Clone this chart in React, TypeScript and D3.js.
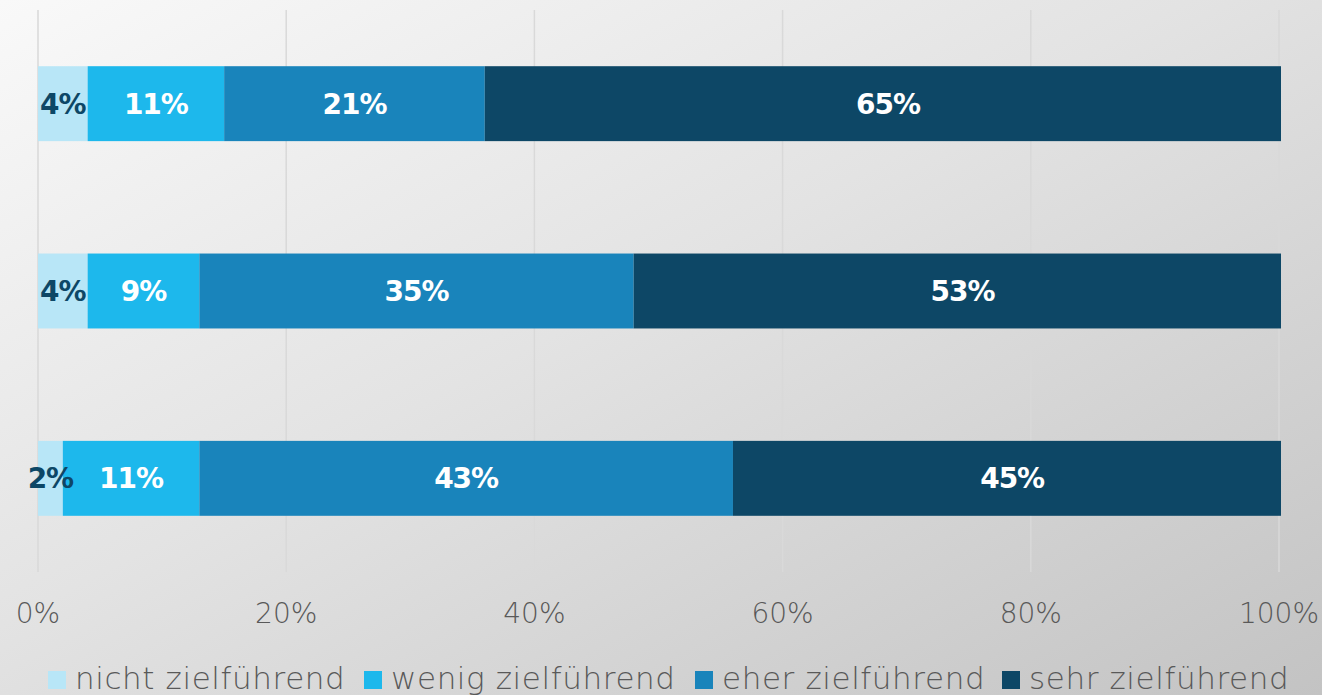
import React from "react";
import * as d3 from "d3";

const categories = ["Gruppe A", "Gruppe B", "Gruppe C"];
const seriesNames = ["nicht zielführend", "wenig zielführend", "eher zielführend", "sehr zielführend"];
const nicht = [4, 4, 2];
const wenig = [11, 9, 11];
const eher = [21, 35, 43];
const sehr = [65, 53, 45];
const tickValues = [0, 20, 40, 60, 80, 100];
const colors = ["#b8e6f7", "#1db8ec", "#1984bb", "#0d4766"];
const labelColors = ["#0d4766", "#ffffff", "#ffffff", "#ffffff"];

const W = 1322;
const H = 695;
const FONT = "'DejaVu Sans', sans-serif";

export default function App() {
  const x = d3.scaleLinear().domain([0, 100]).range([38, 1279]);
  const y = d3.scaleBand().domain(categories).range([10, 572]).paddingInner(0.6).paddingOuter(0.3);

  const table = categories.map((c, i) => ({
    cat: c,
    s0: nicht[i],
    s1: wenig[i],
    s2: eher[i],
    s3: sehr[i],
  }));
  const stack = d3.stack<any>().keys(["s0", "s1", "s2", "s3"])(table);

  const legendX = [48, 364, 695, 1002];

  return (
    <svg
      width={W}
      height={H}
      style={{ position: "fixed", left: 0, top: 0, display: "block" }}
    >
      <defs>
        <linearGradient id="bg" x1="0" y1="0" x2="1" y2="1">
          <stop offset="0" stopColor="#f9f9f9" />
          <stop offset="0.45" stopColor="#e3e3e3" />
          <stop offset="1" stopColor="#c3c3c3" />
        </linearGradient>
        <clipPath id="plotClip">
          <rect x={x(0)} y={0} width={x(100) - x(0) + 2} height={H} />
        </clipPath>
      </defs>
      <rect x={0} y={0} width={W} height={H} fill="url(#bg)" />
      {tickValues.map((t) => (
        <line key={t} x1={x(t)} x2={x(t)} y1={10} y2={572} stroke="#d9d9d9" strokeWidth={1.5} />
      ))}
      <g clipPath="url(#plotClip)">
        {stack.map((layer, si) =>
          layer.map((d, i) => (
            <rect
              key={si + "-" + i}
              x={x(d[0])}
              y={y(categories[i])}
              width={x(d[1]) - x(d[0])}
              height={y.bandwidth()}
              fill={colors[si]}
            />
          ))
        )}
      </g>
      {stack.map((layer, si) =>
        layer.map((d, i) => (
          <text
            key={"l" + si + "-" + i}
            x={(x(d[0]) + x(d[1])) / 2}
            y={(y(categories[i]) as number) + y.bandwidth() / 2}
            dy="0.36em"
            textAnchor="middle"
            fontFamily={FONT}
            fontWeight="bold"
            fontSize={28}
            letterSpacing={-1}
            fill={labelColors[si]}
          >
            {d[1] - d[0] + "%"}
          </text>
        ))
      )}
      {tickValues.map((t) => (
        <text
          key={"t" + t}
          x={x(t)}
          y={623}
          textAnchor="middle"
          fontFamily={FONT}
          fontSize={28}
          fontWeight={300}
          fill="#595959"
        >
          {t + "%"}
        </text>
      ))}
      {seriesNames.map((n, i) => (
        <g key={n}>
          <rect x={legendX[i]} y={671} width={18} height={18} fill={colors[i]} />
          <text
            x={legendX[i] + 27}
            y={689}
            fontFamily={FONT}
            fontSize={31}
            letterSpacing={0.6}
            fontWeight={300}
            fill="#595959"
          >
            {n}
          </text>
        </g>
      ))}
    </svg>
  );
}
